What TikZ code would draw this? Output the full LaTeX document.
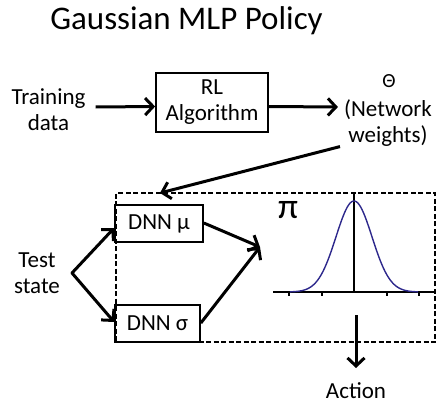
\documentclass[tikz,border=0pt]{standalone}
\usepackage{fontspec}
\setmainfont{Carlito}
\usetikzlibrary{arrows.meta,calc}
\definecolor{curveblue}{RGB}{45,40,140}
\tikzset{
  txt/.style={inner sep=0pt, font=\fontsize{23}{26}\selectfont, align=center},
  box/.style={draw, line width=1.7pt, inner sep=0pt, font=\fontsize{23}{26}\selectfont, align=center},
  arr/.style={line width=3pt, -{Straight Barb[length=8pt,width=17pt]}},
  frame/.style={draw, line width=1.4pt, dash pattern=on 5pt off 2.5pt},
  axisline/.style={line width=1.5pt},
}
\begin{document}
\begin{tikzpicture}[x=1pt,y=-1pt]
\useasboundingbox (0,0) rectangle (436,404);
% title
\node[inner sep=0pt, anchor=base, font=\fontsize{33}{36}\selectfont] (title) at (186.5,29.5) {Gaussian MLP Policy};
% top row
\node[txt] (train) at (48.5,110) {Training\\data};
\node[box, minimum width=112pt, minimum height=59pt] (rl) at (212,102.5) {RL\\Algorithm};
\node[inner sep=0pt, font=\fontsize{20}{22}\selectfont] (theta) at (389,81.5) {Θ};
\node[txt] (nw) at (388,123) {(Network\\weights)};
\draw[arr] ($(train.east)+(10,-3)$) -- ($(rl.west)+(0,4)$);
\draw[arr] ($(rl.east)+(0,4)$) -- ($(nw.west)+(-6,-16)$);
% dashed frame
\node[frame, minimum width=319pt, minimum height=149pt, inner sep=0pt] (fr) at (275.5,267.5) {};
\coordinate (fin) at (160,193);
\draw[arr] ($(nw.south west)+(-4,0)$) -- (fin);
% DNN boxes
\node[box, minimum width=88pt, minimum height=37pt] (mu) at (159,223.5) {DNN μ};
\node[box, minimum width=85pt, minimum height=37pt] (sg) at (157.5,323.5) {DNN σ};
\node[txt] (test) at (37,273) {Test\\state};
\coordinate (fork) at (72,273);
\draw[arr, line cap=round, line join=round] (fork) -- ($(mu.west)+(0,4.5)$);
\draw[arr, line cap=round] (fork) -- ($(sg.west)+(0,-1.5)$);
\coordinate (join) at (260,247);
\draw[arr] ($(mu.east)+(0,-0.5)$) -- (join);
\draw[arr] ($(sg.east)+(0,-0.5)$) -- (join);
% pi and gaussian
\node[inner sep=0pt, font=\fontsize{36}{38}\selectfont] (pi) at (288,210) {π};
\coordinate (org) at (354,292);
\draw[axisline] (273,292) -- (435,292);
\draw[axisline] (org) -- (354,192);
\foreach \t in {289,322,387,419} \draw[axisline] (\t,292) -- (\t,296);
\draw[curveblue, line width=1.4pt, domain=-64:64, samples=120, smooth]
  plot ({354+\x}, {292-91*exp(-(\x*\x)/(2*18*18))});
% action
\node[txt, anchor=base] (act) at (356,398) {Action};
\coordinate (astart) at (356,315);
\coordinate (aend) at (356,368);
\draw[arr] (astart) -- (aend);
\end{tikzpicture}
\end{document}
